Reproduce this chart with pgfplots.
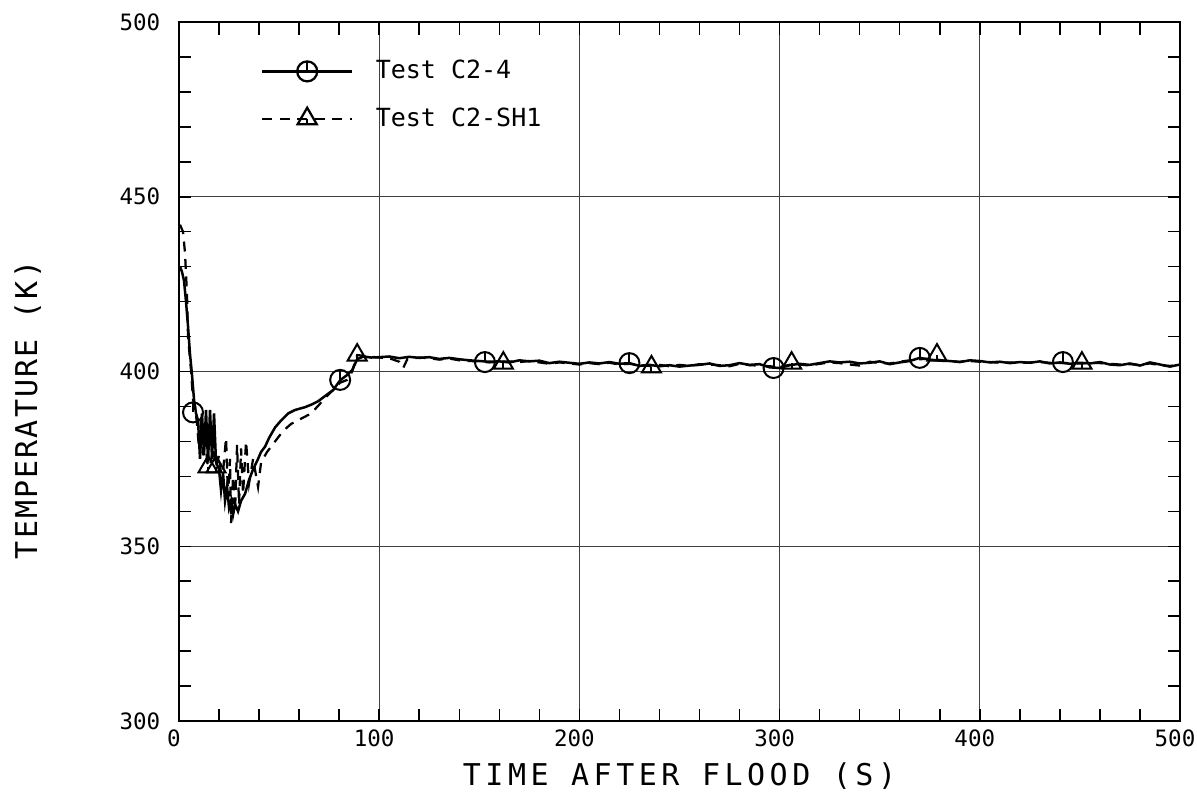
\documentclass[border=0pt]{standalone}
\usepackage{fontspec}
\setmainfont{DejaVu Sans Mono}
\usepackage{pgfplots}
\pgfplotsset{compat=1.18}

% circle with a tick from the top down to the centre, as on the plotter
\pgfdeclareplotmark{ctick}{%
  \pgfpathcircle{\pgfpointorigin}{\pgfplotmarksize}\pgfusepathqstroke
  \pgfpathmoveto{\pgfpoint{0pt}{\pgfplotmarksize}}%
  \pgfpathlineto{\pgfpointorigin}\pgfusepathqstroke}
\pgfdeclareplotmark{ttick}{%
  \pgfpathmoveto{\pgfpoint{0pt}{\pgfplotmarksize}}%
  \pgfpathlineto{\pgfpoint{-.866\pgfplotmarksize}{-.5\pgfplotmarksize}}%
  \pgfpathlineto{\pgfpoint{.866\pgfplotmarksize}{-.5\pgfplotmarksize}}%
  \pgfpathclose\pgfusepathqstroke
  \pgfpathmoveto{\pgfpointorigin}%
  \pgfpathlineto{\pgfpoint{0pt}{-.5\pgfplotmarksize}}\pgfusepathqstroke}

\begin{document}
\begin{tikzpicture}
\useasboundingbox (-71.6pt,-30.8pt) rectangle (407.2pt,288.4pt);
\begin{axis}[scale only axis, width=400.4pt, height=279.6pt,
  xmin=0, xmax=500, ymin=300, ymax=500,
  xtick={0,100,...,500}, ytick={300,350,...,500},
  minor x tick num=4, minor y tick num=4,
  tick align=inside, major tick length=5pt, minor tick length=5pt,
  xtick pos=both, ytick pos=both,
  grid=major, major grid style={line width=0.5pt, black!75},
  axis line style={line width=1pt},
  every tick/.style={black, line width=0.6pt},
  /pgf/number format/assume math mode=true,
  tick label style={font=\fontsize{9}{10}\selectfont},
  yticklabel style={xshift=-4pt},
  xticklabel style={xshift=-2pt},
  xlabel={TIME AFTER FLOOD (S)}, ylabel={TEMPERATURE (K)},
  xlabel style={at={(axis description cs:0.5,-0.079)}, anchor=center,
    font=\fontsize{12}{14}\selectfont\addfontfeature{LetterSpace=15}},
  ylabel style={at={(axis description cs:-0.151,0.445)}, anchor=center,
    font=\fontsize{12}{14}\selectfont\addfontfeature{LetterSpace=7}},
  legend style={draw=none, fill=none, at={(axis cs:37,479.1)}, anchor=west,
    font=\fontsize{10}{12}\selectfont, row sep=6pt},
  legend cell align=left,
  legend image code/.code={\draw[mark repeat=2, mark phase=2, #1]
    plot coordinates {(0pt,0pt) (18pt,0pt) (36pt,0pt)};
    \path (43pt,0pt);},
]
\addlegendimage{black, line width=0.9pt, mark=ctick, mark size=4pt}
\addlegendentry{Test C2-4}
\addlegendimage{black, dash pattern=on 4pt off 3pt, line width=0.9pt, mark=ttick, mark size=4.4pt, mark options={solid}}
\addlegendentry{Test C2-SH1}

% Test C2-SH1, dashed
\addplot[black, dash pattern=on 4pt off 3pt, line width=0.9pt, forget plot] coordinates {
(0.5,442) (2,440) (3,434) (4,422) (4.5,410) (6,400.4) (7,392) (8,390) (9,385)
(10,378) (11,386) (12,376) (13,385) (14,374) (15.5,372.7) (17,378) (18.5,372.7)
(20,376) (21.5,368) (23.5,381) (24.5,364) (25.5,375) (26,356.6) (27,370) (28,360)
(29,379) (30,362) (31,378) (32,365) (33.5,380) (35,368) (37,375) (39.5,367)
(41,374) (44,377) (48,380) (52,383) (56,385) (61,386.5) (66,388) (70,390.5)
(73,392.5) (77,394.7) (80.5,396.8) (84,397.6) (86.5,400) (89,404.7) (92,404.5)
(96,404.2) (100,404.0) (105,403.8) (110,402.8) (112,401.0) (114,403.5) (120,404.0)
(125,403.8) (130,403.4) (135,403.7) (140,403.2) (145,403.0) (150,402.9) (155,402.6)
(160,402.8) (165,402.9) (170,402.7) (175,403.0) (180,402.6) (185,402.2) (190,402.6)
(195,402.3) (200,402.0) (205,402.4) (210,402.1) (215,402.5) (220,402.0) (225,402.2)
(230,401.8) (235,401.6) (240,401.9) (245,401.5) (250,401.9) (255,401.6) (260,402.1)
(265,402.0) (270,401.8) (275,401.5) (280,402.2) (285,401.8) (290,401.7) (295,401.5)
(300,401.3) (305,401.9) (310,402.0) (315,401.7) (320,402.2) (325,402.6) (330,402.4)
(335,402.0) (340,401.7) (345,402.8) (350,402.4) (355,402.3) (360,402.8) (365,403.2)
(370,403.5) (375,403.7) (380,403.3) (385,402.9) (390,402.8) (395,403.0) (400,402.8)
(405,402.7) (410,402.5) (415,402.6) (420,402.4) (425,402.6) (430,402.7) (435,402.5)
(440,402.4) (445,402.4) (450,402.3) (455,402.5) (460,402.4) (465,402.2) (470,402.0)
(475,402.1) (480,401.9) (485,402.3) (490,401.8) (495,401.6) (500,401.9)};

% Test C2-4, solid
\addplot[black, line width=1pt, forget plot] coordinates {
(0.5,430) (1.5,428.5) (2.5,426) (3.5,420) (4.5,413) (5.5,405) (6.5,399) (7.5,392)
(8.5,388) (9.5,386) (10.5,375) (11.5,388) (12.5,376) (13.5,389) (14.5,374)
(15.5,389) (16.5,375) (17.5,388) (18.5,374) (20,372) (21,366) (22,371) (23,363)
(24,367) (25,361) (26,363) (27,359) (28,362) (29.5,360) (31,363) (33,365) (35,369)
(37,372) (39.5,375) (41,377) (43,378.5) (45,381) (48,384) (51,386) (54.5,388)
(58,389) (63,389.8) (66,390.5) (69.5,391.5) (73,393) (77,394.7) (80.5,397.5)
(84,399) (86.5,400.4) (89,403.5) (92,404.3) (96,404) (100,404.1) (105,404.3)
(110,403.8) (115,404.2) (120,403.9) (125,404.1) (130,403.6) (135,403.9) (140,403.5)
(145,403.2) (150,403.0) (155,402.8) (160,402.9) (165,402.6) (170,403.2) (175,402.9)
(180,403.1) (185,402.4) (190,402.8) (195,402.5) (200,402.2) (205,402.6) (210,402.3)
(215,402.7) (220,402.2) (225,402.4) (230,401.6) (235,401.9) (240,401.5) (245,401.8)
(250,401.4) (255,401.7) (260,401.9) (265,402.3) (270,401.6) (275,401.8) (280,402.4)
(285,401.9) (290,402.1) (295,401.2) (300,401.0) (305,401.8) (310,402.2) (315,401.9)
(320,402.4) (325,402.9) (330,402.6) (335,402.8) (340,402.3) (345,402.5) (350,402.9)
(355,402.1) (360,402.6) (365,403.0) (370,403.9) (375,403.4) (380,403.1) (385,403.0)
(390,402.7) (395,403.2) (400,403.0) (405,402.6) (410,402.8) (415,402.4) (420,402.7)
(425,402.5) (430,402.9) (435,402.3) (440,402.6) (445,402.2) (450,402.5) (455,402.3)
(460,402.7) (465,402.0) (470,401.8) (475,402.3) (480,401.7) (485,402.6) (490,402.0)
(495,401.4) (500,402.0)};

% markers
\addplot[black, only marks, mark=ctick, mark size=4pt, line width=0.8pt, forget plot] coordinates {
(7,388.3) (80.5,397.6) (152.8,402.7) (225,402.4) (297,401) (370,403.9) (441.5,402.7)};
\addplot[black, only marks, mark=ttick, mark size=4.4pt, line width=0.8pt, forget plot] coordinates {
(14.5,372.7) (18.5,372.7) (89,404.7) (162,402.4) (236,401.3) (306,402.4) (378.6,404.7) (451,402.4)};
\end{axis}
\end{tikzpicture}
\end{document}
